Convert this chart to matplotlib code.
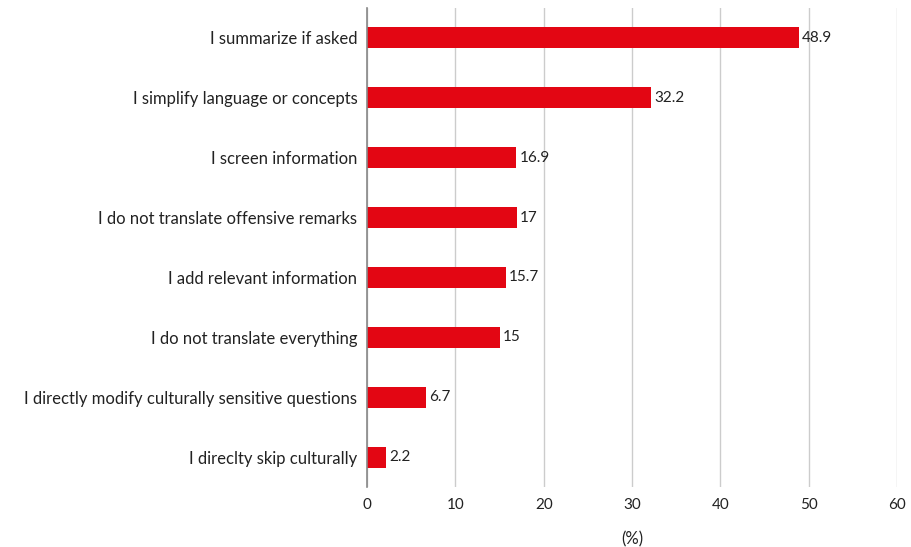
import matplotlib
matplotlib.use("Agg")
import matplotlib.pyplot as plt

categories = [
    "I summarize if asked",
    "I simplify language or concepts",
    "I screen information",
    "I do not translate offensive remarks",
    "I add relevant information",
    "I do not translate everything",
    "I directly modify culturally sensitive questions",
    "I direclty skip culturally",
]
values = [48.9, 32.2, 16.9, 17, 15.7, 15, 6.7, 2.2]
value_labels = ["48.9", "32.2", "16.9", "17", "15.7", "15", "6.7", "2.2"]
xticks = [0, 10, 20, 30, 40, 50, 60]

plt.rcParams["font.family"] = ["Lato", "DejaVu Sans"]

fig = plt.figure(figsize=(9.12, 5.47), dpi=100)
ax = fig.add_axes([0.4024, 0.1097, 0.5812, 0.8756])

y = list(range(len(categories)))
ax.barh(y, values, height=0.35, color="#e30613", zorder=3)
for yi, v, lab in zip(y, values, value_labels):
    ax.text(v + 0.35, yi, lab, va="center", ha="left", fontsize=11, color="#222222")

ax.set_ylim(len(categories) - 0.5, -0.5)
ax.set_xlim(0, 60)
ax.set_yticks(y)
ax.set_yticklabels(categories, fontsize=12, color="#222222")
ax.set_xticks(xticks)
ax.set_xticklabels([str(t) for t in xticks], fontsize=11, color="#222222")
ax.tick_params(axis="both", length=0)
ax.tick_params(axis="y", pad=7)
ax.tick_params(axis="x", pad=8)

ax.grid(axis="x", color="#cccccc", linewidth=1, zorder=0)
for s in ["top", "right", "bottom"]:
    ax.spines[s].set_visible(False)
ax.spines["left"].set_color("#888888")
ax.spines["left"].set_linewidth(1.2)
ax.spines["left"].set_zorder(4)

ax.set_xlabel("(%)", fontsize=12, color="#222222", labelpad=14)

fig.savefig("out.png", dpi=100)
